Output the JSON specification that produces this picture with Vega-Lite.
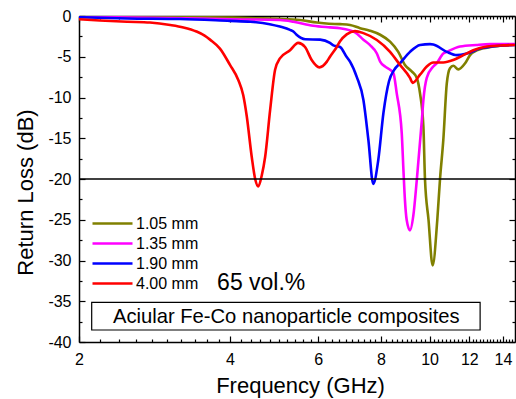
{
  "$schema": "https://vega.github.io/schema/vega-lite/v6.json",
  "width": 436,
  "height": 326,
  "autosize": "none",
  "padding": {"left": 79, "top": 16, "right": 1, "bottom": 57},
  "background": "white",
  "config": {
    "font": "Liberation Sans",
    "view": {"stroke": null},
    "axis": {
      "grid": false,
      "domainColor": "black",
      "domainWidth": 1.5,
      "tickColor": "black",
      "tickWidth": 1.2,
      "labelColor": "black",
      "titleColor": "black",
      "labelFont": "Liberation Sans",
      "titleFont": "Liberation Sans",
      "titleFontWeight": "normal",
      "labelFontSize": 16,
      "titleFontSize": 22
    },
    "legend": {
      "labelFont": "Liberation Sans",
      "labelFontSize": 16,
      "labelColor": "black"
    }
  },
  "datasets": {
    "curves": [
      {"series": "1.05 mm", "f": 2.0, "rl": -0.05},
      {"series": "1.05 mm", "f": 2.5, "rl": -0.08},
      {"series": "1.05 mm", "f": 3.0, "rl": -0.1},
      {"series": "1.05 mm", "f": 3.5, "rl": -0.15},
      {"series": "1.05 mm", "f": 4.0, "rl": -0.2},
      {"series": "1.05 mm", "f": 4.5, "rl": -0.27},
      {"series": "1.05 mm", "f": 5.03, "rl": -0.35},
      {"series": "1.05 mm", "f": 5.52, "rl": -0.5},
      {"series": "1.05 mm", "f": 5.96, "rl": -0.8},
      {"series": "1.05 mm", "f": 6.3, "rl": -0.95},
      {"series": "1.05 mm", "f": 6.63, "rl": -1.0},
      {"series": "1.05 mm", "f": 6.94, "rl": -1.1},
      {"series": "1.05 mm", "f": 7.27, "rl": -1.5},
      {"series": "1.05 mm", "f": 7.6, "rl": -1.8},
      {"series": "1.05 mm", "f": 7.97, "rl": -2.3},
      {"series": "1.05 mm", "f": 8.34, "rl": -3.15},
      {"series": "1.05 mm", "f": 8.66, "rl": -4.4},
      {"series": "1.05 mm", "f": 8.93, "rl": -6.0},
      {"series": "1.05 mm", "f": 9.21, "rl": -6.8},
      {"series": "1.05 mm", "f": 9.43, "rl": -7.6},
      {"series": "1.05 mm", "f": 9.57, "rl": -9.5},
      {"series": "1.05 mm", "f": 9.72, "rl": -13.6},
      {"series": "1.05 mm", "f": 9.79, "rl": -20.0},
      {"series": "1.05 mm", "f": 9.95, "rl": -25.0},
      {"series": "1.05 mm", "f": 10.14, "rl": -30.6},
      {"series": "1.05 mm", "f": 10.36, "rl": -25.0},
      {"series": "1.05 mm", "f": 10.49, "rl": -20.0},
      {"series": "1.05 mm", "f": 10.65, "rl": -15.2},
      {"series": "1.05 mm", "f": 10.82, "rl": -8.3},
      {"series": "1.05 mm", "f": 10.98, "rl": -6.4},
      {"series": "1.05 mm", "f": 11.15, "rl": -6.1},
      {"series": "1.05 mm", "f": 11.41, "rl": -6.55},
      {"series": "1.05 mm", "f": 11.77, "rl": -5.8},
      {"series": "1.05 mm", "f": 12.04, "rl": -4.8},
      {"series": "1.05 mm", "f": 12.42, "rl": -4.2},
      {"series": "1.05 mm", "f": 13.4, "rl": -3.75},
      {"series": "1.05 mm", "f": 14.8, "rl": -3.5},

      {"series": "1.35 mm", "f": 2.0, "rl": -0.1},
      {"series": "1.35 mm", "f": 3.0, "rl": -0.25},
      {"series": "1.35 mm", "f": 4.0, "rl": -0.4},
      {"series": "1.35 mm", "f": 5.03, "rl": -0.5},
      {"series": "1.35 mm", "f": 5.35, "rl": -0.7},
      {"series": "1.35 mm", "f": 5.86, "rl": -1.2},
      {"series": "1.35 mm", "f": 6.33, "rl": -1.4},
      {"series": "1.35 mm", "f": 6.63, "rl": -1.5},
      {"series": "1.35 mm", "f": 7.1, "rl": -2.0},
      {"series": "1.35 mm", "f": 7.38, "rl": -2.9},
      {"series": "1.35 mm", "f": 7.6, "rl": -3.55},
      {"series": "1.35 mm", "f": 7.85, "rl": -4.6},
      {"series": "1.35 mm", "f": 7.97, "rl": -5.6},
      {"series": "1.35 mm", "f": 8.15, "rl": -6.2},
      {"series": "1.35 mm", "f": 8.34, "rl": -6.6},
      {"series": "1.35 mm", "f": 8.47, "rl": -7.0},
      {"series": "1.35 mm", "f": 8.6, "rl": -9.5},
      {"series": "1.35 mm", "f": 8.8, "rl": -14.4},
      {"series": "1.35 mm", "f": 8.87, "rl": -19.0},
      {"series": "1.35 mm", "f": 8.93, "rl": -22.6},
      {"series": "1.35 mm", "f": 9.0, "rl": -25.0},
      {"series": "1.35 mm", "f": 9.14, "rl": -26.3},
      {"series": "1.35 mm", "f": 9.28, "rl": -24.5},
      {"series": "1.35 mm", "f": 9.43, "rl": -20.1},
      {"series": "1.35 mm", "f": 9.65, "rl": -12.8},
      {"series": "1.35 mm", "f": 9.72, "rl": -10.3},
      {"series": "1.35 mm", "f": 9.87, "rl": -7.6},
      {"series": "1.35 mm", "f": 10.17, "rl": -6.2},
      {"series": "1.35 mm", "f": 10.33, "rl": -5.8},
      {"series": "1.35 mm", "f": 10.65, "rl": -4.6},
      {"series": "1.35 mm", "f": 10.82, "rl": -4.4},
      {"series": "1.35 mm", "f": 11.5, "rl": -3.75},
      {"series": "1.35 mm", "f": 12.4, "rl": -3.55},
      {"series": "1.35 mm", "f": 13.2, "rl": -3.45},
      {"series": "1.35 mm", "f": 14.8, "rl": -3.45},

      {"series": "1.90 mm", "f": 2.0, "rl": -0.15},
      {"series": "1.90 mm", "f": 2.5, "rl": -0.3},
      {"series": "1.90 mm", "f": 3.18, "rl": -0.37},
      {"series": "1.90 mm", "f": 4.0, "rl": -0.6},
      {"series": "1.90 mm", "f": 4.39, "rl": -0.7},
      {"series": "1.90 mm", "f": 4.8, "rl": -1.0},
      {"series": "1.90 mm", "f": 5.03, "rl": -1.3},
      {"series": "1.90 mm", "f": 5.27, "rl": -1.7},
      {"series": "1.90 mm", "f": 5.35, "rl": -1.9},
      {"series": "1.90 mm", "f": 5.43, "rl": -2.3},
      {"series": "1.90 mm", "f": 5.65, "rl": -2.85},
      {"series": "1.90 mm", "f": 6.05, "rl": -2.9},
      {"series": "1.90 mm", "f": 6.33, "rl": -3.3},
      {"series": "1.90 mm", "f": 6.43, "rl": -3.6},
      {"series": "1.90 mm", "f": 6.63, "rl": -3.8},
      {"series": "1.90 mm", "f": 6.83, "rl": -5.0},
      {"series": "1.90 mm", "f": 6.94, "rl": -5.6},
      {"series": "1.90 mm", "f": 7.16, "rl": -7.5},
      {"series": "1.90 mm", "f": 7.38, "rl": -10.3},
      {"series": "1.90 mm", "f": 7.55, "rl": -15.2},
      {"series": "1.90 mm", "f": 7.72, "rl": -20.6},
      {"series": "1.90 mm", "f": 7.9, "rl": -17.7},
      {"series": "1.90 mm", "f": 8.09, "rl": -11.9},
      {"series": "1.90 mm", "f": 8.3, "rl": -8.0},
      {"series": "1.90 mm", "f": 8.5, "rl": -6.6},
      {"series": "1.90 mm", "f": 8.73, "rl": -5.8},
      {"series": "1.90 mm", "f": 9.14, "rl": -4.4},
      {"series": "1.90 mm", "f": 9.57, "rl": -3.55},
      {"series": "1.90 mm", "f": 10.02, "rl": -3.45},
      {"series": "1.90 mm", "f": 10.17, "rl": -3.5},
      {"series": "1.90 mm", "f": 10.82, "rl": -4.4},
      {"series": "1.90 mm", "f": 11.33, "rl": -4.8},
      {"series": "1.90 mm", "f": 11.86, "rl": -4.6},
      {"series": "1.90 mm", "f": 12.6, "rl": -4.0},
      {"series": "1.90 mm", "f": 13.8, "rl": -3.65},
      {"series": "1.90 mm", "f": 14.8, "rl": -3.55},

      {"series": "4.00 mm", "f": 2.0, "rl": -0.4},
      {"series": "4.00 mm", "f": 2.2, "rl": -0.55},
      {"series": "4.00 mm", "f": 2.5, "rl": -0.7},
      {"series": "4.00 mm", "f": 2.77, "rl": -0.8},
      {"series": "4.00 mm", "f": 3.04, "rl": -1.1},
      {"series": "4.00 mm", "f": 3.23, "rl": -1.4},
      {"series": "4.00 mm", "f": 3.43, "rl": -1.9},
      {"series": "4.00 mm", "f": 3.56, "rl": -2.4},
      {"series": "4.00 mm", "f": 3.65, "rl": -2.9},
      {"series": "4.00 mm", "f": 3.82, "rl": -4.0},
      {"series": "4.00 mm", "f": 4.0, "rl": -6.0},
      {"series": "4.00 mm", "f": 4.155, "rl": -7.85},
      {"series": "4.00 mm", "f": 4.25, "rl": -9.7},
      {"series": "4.00 mm", "f": 4.32, "rl": -12.3},
      {"series": "4.00 mm", "f": 4.42, "rl": -17.3},
      {"series": "4.00 mm", "f": 4.49, "rl": -20.0},
      {"series": "4.00 mm", "f": 4.556, "rl": -20.9},
      {"series": "4.00 mm", "f": 4.63, "rl": -19.5},
      {"series": "4.00 mm", "f": 4.7, "rl": -17.3},
      {"series": "4.00 mm", "f": 4.81, "rl": -11.5},
      {"series": "4.00 mm", "f": 4.92, "rl": -6.6},
      {"series": "4.00 mm", "f": 5.03, "rl": -5.2},
      {"series": "4.00 mm", "f": 5.27, "rl": -4.2},
      {"series": "4.00 mm", "f": 5.47, "rl": -3.3},
      {"series": "4.00 mm", "f": 5.645, "rl": -3.8},
      {"series": "4.00 mm", "f": 5.82, "rl": -5.4},
      {"series": "4.00 mm", "f": 6.03, "rl": -6.3},
      {"series": "4.00 mm", "f": 6.24, "rl": -5.6},
      {"series": "4.00 mm", "f": 6.33, "rl": -5.0},
      {"series": "4.00 mm", "f": 6.53, "rl": -3.8},
      {"series": "4.00 mm", "f": 6.63, "rl": -3.1},
      {"series": "4.00 mm", "f": 6.835, "rl": -2.25},
      {"series": "4.00 mm", "f": 7.1, "rl": -1.85},
      {"series": "4.00 mm", "f": 7.38, "rl": -2.1},
      {"series": "4.00 mm", "f": 7.85, "rl": -2.95},
      {"series": "4.00 mm", "f": 8.34, "rl": -4.4},
      {"series": "4.00 mm", "f": 8.73, "rl": -6.0},
      {"series": "4.00 mm", "f": 9.14, "rl": -7.6},
      {"series": "4.00 mm", "f": 9.25, "rl": -8.2},
      {"series": "4.00 mm", "f": 9.57, "rl": -7.2},
      {"series": "4.00 mm", "f": 9.87, "rl": -6.2},
      {"series": "4.00 mm", "f": 10.17, "rl": -5.7},
      {"series": "4.00 mm", "f": 10.65, "rl": -5.7},
      {"series": "4.00 mm", "f": 11.15, "rl": -5.4},
      {"series": "4.00 mm", "f": 11.68, "rl": -4.8},
      {"series": "4.00 mm", "f": 12.22, "rl": -4.2},
      {"series": "4.00 mm", "f": 13.0, "rl": -3.75},
      {"series": "4.00 mm", "f": 14.03, "rl": -3.6},
      {"series": "4.00 mm", "f": 14.8, "rl": -3.55}
    ],
    "one": [{}]
  },
  "resolve": {
    "scale": {"x": "shared", "y": "shared", "color": "independent"},
    "axis": {"x": "independent", "y": "independent"}
  },
  "layer": [
    {
      "data": {"name": "curves"},
      "mark": {"type": "line", "strokeWidth": 2.6, "interpolate": "monotone", "clip": true},
      "encoding": {
        "x": {
          "field": "f", "type": "quantitative",
          "scale": {"type": "log", "domain": [2, 14.8], "nice": false},
          "axis": {
            "orient": "bottom", "title": "Frequency (GHz)",
            "values": [2, 4, 6, 8, 10, 12, 14],
            "labelExpr": "'' + datum.value",
            "tickSize": -6, "labelPadding": 15, "labelFlush": false,
            "titleX": 221, "titleY": 43, "titleBaseline": "middle"
          }
        },
        "y": {
          "field": "rl", "type": "quantitative",
          "scale": {"domain": [-40, 0], "nice": false},
          "axis": {
            "orient": "left", "title": "Return Loss (dB)",
            "values": [-40, -35, -30, -25, -20, -15, -10, -5, 0],
            "labelExpr": "'' + datum.value",
            "tickSize": -6, "labelPadding": 14,
            "titleX": -54, "titleY": 176, "titleAngle": -90,
            "titleAlign": "center", "titleBaseline": "middle"
          }
        },
        "color": {
          "field": "series", "type": "nominal",
          "scale": {
            "domain": ["1.05 mm", "1.35 mm", "1.90 mm", "4.00 mm"],
            "range": ["#808000", "#ff00ff", "#0000ff", "#ff0000"]
          },
          "legend": {
            "title": null, "orient": "none", "legendX": 22, "legendY": 196,
            "symbolType": "M-2,0L2,0", "symbolSize": 400, "symbolStrokeWidth": 2.5,
            "symbolFillColor": "transparent",
            "labelFontSize": 16, "rowPadding": 0, "padding": 0, "labelOffset": 12
          }
        }
      }
    },
    {
      "data": {"name": "curves"},
      "mark": {"type": "point", "opacity": 0},
      "encoding": {
        "x": {
          "field": "f", "type": "quantitative",
          "scale": {"type": "log", "domain": [2, 14.8], "nice": false},
          "axis": {"orient": "top", "title": null, "labels": false, "values": [2, 4, 6, 8, 10, 12, 14], "tickSize": -6}
        },
        "y": {
          "field": "rl", "type": "quantitative",
          "scale": {"domain": [-40, 0], "nice": false},
          "axis": {"orient": "right", "title": null, "labels": false, "values": [-40, -35, -30, -25, -20, -15, -10, -5, 0], "tickSize": -6}
        }
      }
    },
    {
      "data": {"name": "curves"},
      "mark": {"type": "point", "opacity": 0},
      "encoding": {
        "x": {
          "field": "f", "type": "quantitative",
          "scale": {"type": "log", "domain": [2, 14.8], "nice": false},
          "axis": {"orient": "bottom", "title": null, "labels": false, "domain": false,
            "values": [2.2, 2.4, 2.6, 2.8, 3, 3.2, 3.4, 3.6, 3.8, 4.2, 4.4, 4.6, 4.8, 5, 5.2, 5.4, 5.6, 5.8, 6.2, 6.4, 6.6, 6.8, 7, 7.2, 7.4, 7.6, 7.8, 8.2, 8.4, 8.6, 8.8, 9, 9.2, 9.4, 9.6, 9.8, 10.2, 10.4, 10.6, 10.8, 11, 11.2, 11.4, 11.6, 11.8, 12.2, 12.4, 12.6, 12.8, 13, 13.2, 13.4, 13.6, 13.8, 14.2, 14.4, 14.6],
            "tickSize": -3}
        },
        "y": {
          "field": "rl", "type": "quantitative",
          "scale": {"domain": [-40, 0], "nice": false},
          "axis": {"orient": "left", "title": null, "labels": false, "domain": false,
            "values": [-37.5, -32.5, -27.5, -22.5, -17.5, -12.5, -7.5, -2.5], "tickSize": -3}
        }
      }
    },
    {
      "data": {"name": "curves"},
      "mark": {"type": "point", "opacity": 0},
      "encoding": {
        "x": {
          "field": "f", "type": "quantitative",
          "scale": {"type": "log", "domain": [2, 14.8], "nice": false},
          "axis": {"orient": "top", "title": null, "labels": false, "domain": false,
            "values": [2.2, 2.4, 2.6, 2.8, 3, 3.2, 3.4, 3.6, 3.8, 4.2, 4.4, 4.6, 4.8, 5, 5.2, 5.4, 5.6, 5.8, 6.2, 6.4, 6.6, 6.8, 7, 7.2, 7.4, 7.6, 7.8, 8.2, 8.4, 8.6, 8.8, 9, 9.2, 9.4, 9.6, 9.8, 10.2, 10.4, 10.6, 10.8, 11, 11.2, 11.4, 11.6, 11.8, 12.2, 12.4, 12.6, 12.8, 13, 13.2, 13.4, 13.6, 13.8, 14.2, 14.4, 14.6],
            "tickSize": -3}
        },
        "y": {
          "field": "rl", "type": "quantitative",
          "scale": {"domain": [-40, 0], "nice": false},
          "axis": {"orient": "right", "title": null, "labels": false, "domain": false,
            "values": [-37.5, -32.5, -27.5, -22.5, -17.5, -12.5, -7.5, -2.5], "tickSize": -3}
        }
      }
    },
    {
      "data": {"name": "one"},
      "mark": {"type": "rule", "color": "black", "strokeWidth": 1.4},
      "encoding": {"y": {"datum": -20, "type": "quantitative", "axis": null}}
    },
    {
      "data": {"name": "one"},
      "mark": {"type": "rect", "fill": "white", "stroke": "black", "strokeWidth": 1.2},
      "encoding": {
        "x": {"datum": 2.12, "type": "quantitative", "axis": null},
        "x2": {"datum": 12.61},
        "y": {"datum": -35.13, "type": "quantitative", "axis": null},
        "y2": {"datum": -38.53}
      }
    },
    {
      "data": {"name": "one"},
      "mark": {"type": "text", "fontSize": 20.2, "align": "center", "baseline": "middle", "color": "black"},
      "encoding": {
        "x": {"datum": 5.18, "type": "quantitative", "axis": null},
        "y": {"datum": -36.9, "type": "quantitative", "axis": null},
        "text": {"value": "Aciular Fe-Co nanoparticle composites"}
      }
    },
    {
      "data": {"name": "one"},
      "mark": {"type": "text", "fontSize": 23, "align": "left", "baseline": "middle", "color": "black"},
      "encoding": {
        "x": {"datum": 3.77, "type": "quantitative", "axis": null},
        "y": {"datum": -32.8, "type": "quantitative", "axis": null},
        "text": {"value": "65 vol.%"}
      }
    }
  ]
}
